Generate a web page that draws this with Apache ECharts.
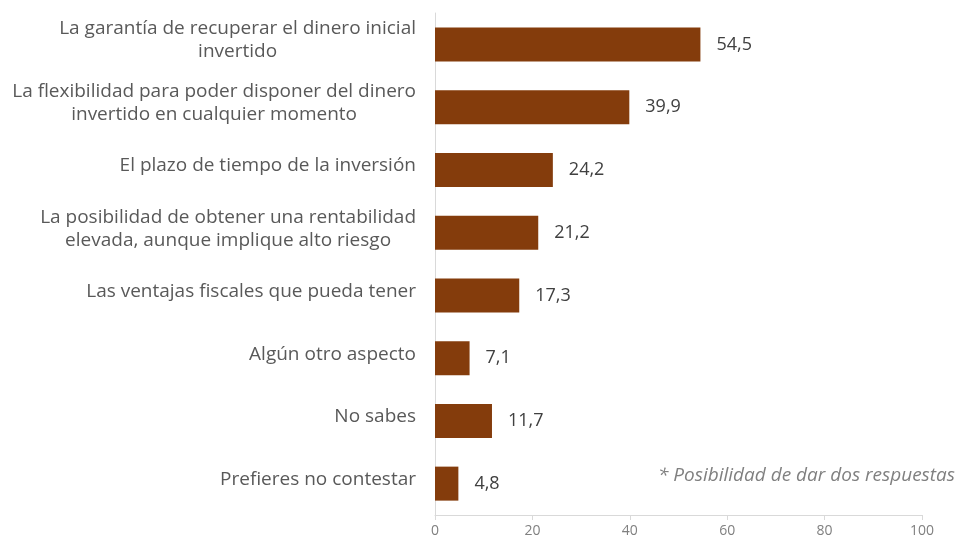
<!DOCTYPE html>
<html>
<head>
<meta charset="utf-8">
<script src="https://cdn.jsdelivr.net/npm/echarts@6/dist/echarts.min.js"></script>
<style>
  html, body { margin: 0; padding: 0; background: #fff; }
  #chart { width: 962px; height: 540px; }
</style>
</head>
<body>
<div id="chart"></div>
<script>
// categorías (de arriba a abajo)
const categories = [
  'La garantía de recuperar el dinero inicial\ninvertido',
  'La flexibilidad para poder disponer del dinero\ninvertido en cualquier momento',
  'El plazo de tiempo de la inversión',
  'La posibilidad de obtener una rentabilidad\nelevada, aunque implique alto riesgo',
  'Las ventajas fiscales que pueda tener',
  'Algún otro aspecto',
  'No sabes',
  'Prefieres no contestar'
];
const values = [54.5, 39.9, 24.2, 21.2, 17.3, 7.1, 11.7, 4.8];
const xTicks = [0, 20, 40, 60, 80, 100];
const note = '* Posibilidad de dar dos respuestas';

const FONT = '"Open Sans"';
const chart = echarts.init(document.getElementById('chart'));

const option = {
  animation: false,
  grid: { left: 435, right: 40, top: 13, bottom: 25, containLabel: false },
  xAxis: {
    type: 'value',
    min: xTicks[0],
    max: xTicks[xTicks.length - 1],
    interval: 20,
    axisLine: { show: true, lineStyle: { color: '#d9d9d9', width: 1 } },
    axisTick: { show: true, length: 5, lineStyle: { color: '#d9d9d9' } },
    splitLine: { show: false },
    axisLabel: { color: '#808080', fontSize: 14, fontFamily: FONT, margin: 9 }
  },
  yAxis: {
    type: 'category',
    data: categories,
    inverse: true,
    axisLine: { show: true, lineStyle: { color: '#d9d9d9', width: 1 } },
    axisTick: { show: false },
    axisLabel: {
      margin: 19,
      fontSize: 19,
      fontFamily: FONT,
      color: '#595959',
      lineHeight: 23,
      padding: [0, 0, 8, 0],
      formatter: function (v) {
        return v.split('\n').map(function (l) { return '{c|' + l + '}'; }).join('\n');
      },
      rich: {
        c: { align: 'center', fontSize: 19, fontFamily: FONT, color: '#595959', lineHeight: 23 }
      }
    }
  },
  series: [{
    type: 'bar',
    data: values,
    barWidth: 34,
    itemStyle: { color: '#843c0c' },
    label: {
      show: true,
      position: 'right',
      distance: 16,
      color: '#404040',
      fontSize: 18,
      fontFamily: FONT,
      formatter: function (p) { return String(p.value).replace('.', ','); }
    }
  }],
  graphic: [{
    type: 'text',
    right: 7,
    top: 466,
    style: {
      text: note,
      fill: '#808080',
      font: 'italic 19px ' + FONT
    }
  }]
};

chart.setOption(option);
</script>
</body>
</html>
